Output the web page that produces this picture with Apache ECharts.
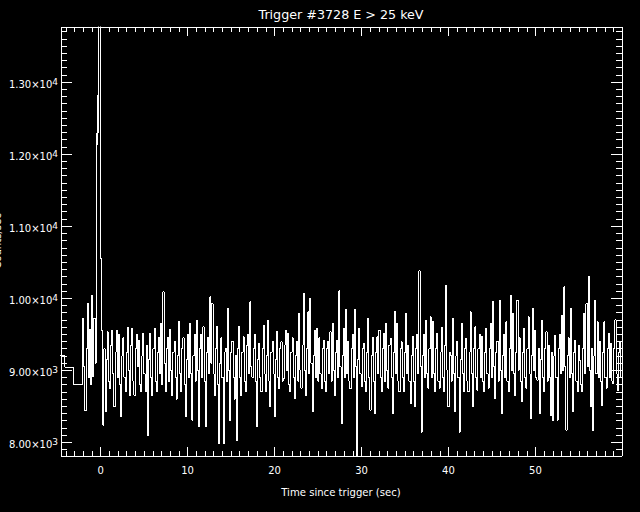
<!DOCTYPE html>
<html>
<head>
<meta charset="utf-8">
<script src="https://cdn.jsdelivr.net/npm/echarts@6/dist/echarts.min.js"></script>
<style>
html,body{margin:0;padding:0;background:#000;}
#chart{width:640px;height:512px;}
#chart svg path{shape-rendering:crispEdges;}
</style>
</head>
<body>
<div id="chart"></div>
<script>
// ---- data ----
const titleText = 'Trigger #3728 E > 25 keV';
const xTitle = 'Time since trigger (sec)';
const yTitle = 'Counts/sec';

// 1.024 s pre-trigger bins (left edges)
const preTimes = [-5.12, -4.096, -3.072];
const preCounts = [9200, 9040, 8800];

// 0.128 s bins from -2.048 to -0.512
const binW = 0.128;
const fineAStart = -2.048;
const fineA = [9720, 9050, 8440, 9300, 9930, 8900, 9560, 8800, 10040, 8910, 9720, 9100];

// 0.064 s bins around the peak, -0.512 to 0
const peakStart = -0.512;
const peakBin = 0.064;
const peak = [9970, 12290, 12125, 12820, 12290, 16000, 16000, 10556];

// 0.128 s bins from 0 to 59.904
const fineBStart = 0;
const fineB = [
  10556, 9550, 8236, 9300, 8421, 9150, 9532, 8850, 8750, 9350, 9556, 8950, 8491, 9250, 9556, 8900, 9500, 8800, 8352, 9200,
  9450, 8900, 8700, 9250, 9600, 9000, 8650, 9350, 9579, 8850, 8650, 9300, 9500, 9050, 9417, 8800, 8700, 9200, 9509, 8950,
  8700, 9350, 8088, 9150, 9509, 8900, 8650, 9300, 9579, 8850, 8700, 9250, 9450, 8950, 9648, 8800, 10088, 9100, 8700, 9300,
  9450, 8850, 9565, 9000, 8650, 9250, 9400, 8900, 8600, 9200, 9671, 8950, 8700, 9300, 9450, 8800, 8352, 9150, 9500, 8900,
  9648, 8950, 8305, 9200, 9500, 8850, 9694, 9000, 8225, 9300, 9500, 8900, 9602, 8850, 8213, 9250, 9450, 8950, 10018, 9100,
  9926, 8950, 8650, 9300, 9602, 8800, 7982, 9100, 9450, 8900, 7982, 9250, 9300, 8850, 9856, 9000, 8305, 9250, 9400, 8900,
  8600, 9200, 8028, 9300, 9602, 8900, 8650, 9250, 9463, 8850, 8700, 9350, 9500, 8950, 9949, 9050, 8900, 9300, 9500, 8850,
  8213, 9150, 9370, 8900, 8700, 9300, 9625, 8950, 8700, 9200, 9694, 8850, 8491, 9250, 9400, 8950, 8361, 9150, 9532, 8900,
  8750, 9300, 9393, 8850, 8884, 9350, 9550, 9000, 9509, 8800, 8700, 9250, 9450, 8900, 8606, 9200, 9400, 8850, 9787, 9000,
  8750, 9350, 10065, 9000, 8650, 9300, 9810, 8950, 9995, 9100, 8421, 9200, 9556, 8900, 9579, 8850, 9450, 8950, 8745, 9300,
  9417, 8850, 8700, 9300, 9400, 8950, 9532, 8850, 9648, 9000, 8650, 9250, 9417, 8900, 10102, 9050, 8259, 9200, 9579, 8900,
  9847, 8950, 9400, 8850, 8745, 9300, 9500, 8900, 9843, 9050, 7750, 9150, 9579, 8950, 8768, 9300, 9370, 8850, 8700, 9250,
  9718, 8900, 8444, 9200, 9450, 8850, 8398, 9250, 9463, 8950, 9556, 8900, 8700, 9300, 9509, 8850, 9648, 9000, 8750, 9350,
  9440, 8900, 8398, 9250, 9810, 8950, 9648, 8850, 8700, 9300, 9393, 8900, 8700, 9250, 9787, 8950, 9350, 8850, 8537, 9200,
  9463, 8850, 8491, 9300, 9500, 8950, 10380, 9050, 8143, 9200, 9500, 8900, 9694, 8950, 8750, 9300, 9741, 8900, 9671, 8950,
  8700, 9300, 9509, 8850, 8750, 9250, 9590, 8900, 8700, 9350, 10180, 9000, 8491, 9250, 9208, 8850, 9718, 8950, 8421, 9200,
  9400, 8900, 8143, 9150, 9648, 8950, 8700, 9300, 9440, 8850, 8700, 9250, 9810, 8950, 8491, 9300, 9602, 8900, 8722, 9300,
  9500, 8900, 9463, 8850, 8700, 9250, 9579, 8950, 8750, 9300, 9648, 8900, 9949, 9050, 8606, 9250, 9400, 8850, 9972, 9000,
  8398, 9200, 9500, 8900, 9671, 8850, 8700, 9300, 10042, 9000, 9787, 8950, 8650, 9250, 9972, 9000, 9450, 8850, 8560, 9250,
  9579, 8900, 8750, 9300, 9741, 8950, 8329, 9200, 9856, 9000, 9550, 8900, 8861, 9300, 8398, 9150, 9694, 8900, 8700, 9300,
  9532, 8850, 9350, 8900, 8375, 9250, 8305, 9200, 9486, 8900, 8305, 9300, 9500, 8950, 9764, 9000, 10157, 9050, 8167, 9200,
  9450, 8900, 9856, 8950, 8421, 9250, 9417, 8850, 8700, 9350, 9139, 8800, 8700, 9300, 9787, 8950, 9926, 9050, 10300, 9000,
  8491, 9300, 8167, 9200, 9972, 8950, 9671, 8900, 9400, 8850, 8514, 9250, 9671, 8900, 8750, 9300, 9509, 8900, 9370, 8850,
  8815, 9300, 9700, 8950, 8720, 9250, 9400, 8900
];

const xMin = -4.55, xMax = 59.95;
const yMin = 7810, yMax = 13764;
const xMajor = [0, 10, 20, 30, 40, 50];
const xMinor = [];
for (let t = -4; t <= 59; t++) xMinor.push(t);
const yMajor = [8000, 9000, 10000, 11000, 12000, 13000];
const yMinor = [];
for (let v = 7900; v <= 13700; v += 100) yMinor.push(v);

// ---- build step data ----
const pts = [];
preTimes.forEach((t, i) => pts.push([t, preCounts[i]]));
fineA.forEach((v, i) => pts.push([fineAStart + i * binW, v]));
peak.forEach((v, i) => pts.push([peakStart + i * peakBin, v]));
fineB.forEach((v, i) => pts.push([fineBStart + i * binW, v]));
pts.push([fineBStart + fineB.length * binW, fineB[fineB.length - 1]]);

const FONT = 'DejaVu Sans';
const WHITE = '#ffffff';

function yLabel(v) {
  const e = Math.floor(Math.log10(v));
  const m = (v / Math.pow(10, e)).toFixed(2);
  return '{m|' + m + '×10}{s|' + e + '}';
}

function xAxisDef(pos, ticks, len, withLabels, withLine) {
  return {
    type: 'value', position: pos, min: xMin, max: xMax,
    axisLine: { show: withLine, onZero: false, lineStyle: { color: WHITE, width: 1 } },
    axisTick: { show: true, inside: true, length: len, customValues: ticks, lineStyle: { color: WHITE, width: 1 } },
    axisLabel: withLabels ? { show: true, customValues: xMajor, color: WHITE, fontFamily: FONT, fontSize: 10, margin: 9 } : { show: false },
    splitLine: { show: false }
  };
}
function yAxisDef(pos, ticks, len, withLabels, withLine) {
  return {
    type: 'value', position: pos, min: yMin, max: yMax,
    axisLine: { show: withLine, onZero: false, lineStyle: { color: WHITE, width: 1 } },
    axisTick: { show: true, inside: true, length: len, customValues: ticks, lineStyle: { color: WHITE, width: 1 } },
    axisLabel: withLabels ? {
      show: true, customValues: yMajor, margin: 3, color: WHITE,
      padding: [3, 0, 0, 0],
      formatter: yLabel,
      rich: {
        m: { fontFamily: FONT, fontSize: 10, color: WHITE, lineHeight: 12, verticalAlign: 'bottom' },
        s: { fontFamily: FONT, fontSize: 9, color: WHITE, lineHeight: 9, padding: [0, 0, 6, 0], verticalAlign: 'top' }
      }
    } : { show: false },
    splitLine: { show: false }
  };
}

const chart = echarts.init(document.getElementById('chart'), null, { renderer: 'svg' });
chart.setOption({
  backgroundColor: '#000000',
  animation: false,
  grid: { left: 61, right: 18, top: 27, bottom: 56, containLabel: false },
  xAxis: [
    xAxisDef('bottom', xMajor, 9, true, true),
    xAxisDef('bottom', xMinor, 5, false, false),
    xAxisDef('top', xMajor, 9, false, true),
    xAxisDef('top', xMinor, 5, false, false)
  ],
  yAxis: [
    yAxisDef('left', yMajor, 11, true, true),
    yAxisDef('left', yMinor, 6, false, false),
    yAxisDef('right', yMajor, 11, false, true),
    yAxisDef('right', yMinor, 6, false, false)
  ],
  graphic: [
    { type: 'text', x: 341, y: 14, style: { text: titleText, fill: WHITE, font: '12.7px "DejaVu Sans"', textAlign: 'center', textVerticalAlign: 'middle' } },
    { type: 'text', x: 341, y: 492, style: { text: xTitle, fill: WHITE, font: '10.1px "DejaVu Sans"', textAlign: 'center', textVerticalAlign: 'middle' } },
    { type: 'text', x: 2.5, y: 241, rotation: Math.PI / 2, style: { text: yTitle, fill: WHITE, font: '10.1px "DejaVu Sans"', textAlign: 'center', textVerticalAlign: 'bottom' } }
  ],
  series: [{
    type: 'line',
    xAxisIndex: 0, yAxisIndex: 0,
    data: pts,
    step: 'end',
    showSymbol: false,
    symbol: 'none',
    clip: true,
    lineStyle: { color: WHITE, width: 1 }
  }]
});
</script>
</body>
</html>
